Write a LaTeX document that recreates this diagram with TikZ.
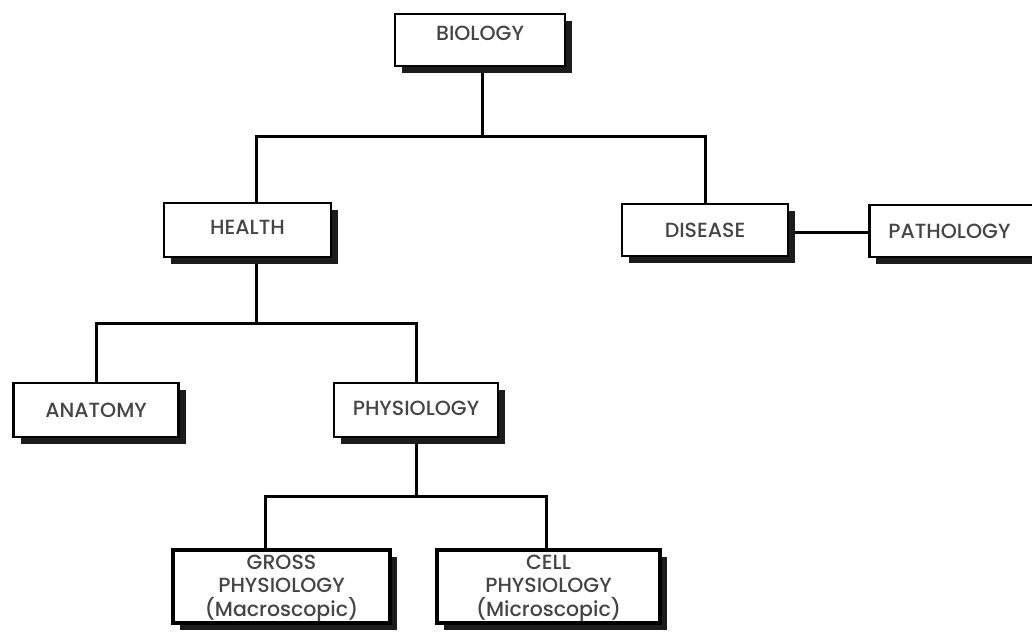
\documentclass[tikz,border=0pt]{standalone}
\usepackage{fontspec}
\setmainfont{Poppins}[UprightFont=* Medium]
\usetikzlibrary{shadows,backgrounds}
\definecolor{textgray}{HTML}{454545}
\definecolor{shadowgray}{HTML}{1C1C1C}
\begin{document}
\begin{tikzpicture}[x=1pt,y=-1pt,
  box/.style={draw=black, line width=2.8pt, fill=white, text=textgray,
    font=\fontsize{20.5}{24}\selectfont, inner sep=0pt,
    drop shadow={shadow xshift=7pt, shadow yshift=-7pt, fill=shadowgray, opacity=1}},
  bigbox/.style={box, line width=4.5pt, align=center, font=\fontsize{20.5}{23.5}\selectfont},
  link/.style={draw=black, line width=3pt}]
\clip (0,0) rectangle (1032,634);
% junction coordinates
\coordinate (jb) at (482,136);
\coordinate (jh) at (256,323);
\coordinate (jp) at (416,496);
\coordinate (xg) at (265,0);
\coordinate (xc) at (546,0);
\coordinate (yd) at (0,232);
% nodes
\node[box, minimum width=170pt, minimum height=52pt] (bio) at (480,40) {\raisebox{14pt}{BIOLOGY}};
\node[box, minimum width=167pt, minimum height=54pt] (health) at (247.5,230) {\raisebox{5pt}{HEALTH}};
\node[box, minimum width=166pt, minimum height=52pt] (disease) at (705,230) {\raisebox{-9pt}{DISEASE}};
\node[box, anchor=west, minimum height=52pt, text width=160pt, inner xsep=19pt, align=left] (pathology) at (868,231) {PATHOLOGY};
\node[box, minimum width=165pt, minimum height=54pt] (anatomy) at (96,410) {ANATOMY};
\node[box, minimum width=164pt, minimum height=54pt] (physiology) at (416,410) {\raisebox{3pt}{PHYSIOLOGY}};
\node[bigbox, minimum width=217pt, minimum height=73pt] (gross) at (281.5,586.5) {\rule{0pt}{17.5pt}GROSS\\PHYSIOLOGY\\(Macroscopic)};
\node[bigbox, minimum width=223pt, minimum height=73pt] (cell) at (548.5,586.5) {\rule{0pt}{17.5pt}CELL\\PHYSIOLOGY\\(Microscopic)};
% connectors
\begin{scope}[on background layer]
\fill[white] (0,0) rectangle (1032,634);
\draw[link] (bio.south -| jb) -- (jb);
\draw[link] (health.north -| jh) |- (jb) -| (disease.north);
\draw[link] (health.south -| jh) -- (jh);
\draw[link] (anatomy.north) |- (jh) -| (physiology.north);
\draw[link] (physiology.south) -- (jp);
\draw[link] (gross.north -| xg) |- (jp) -| (cell.north -| xc);
\draw[link] (disease.east |- yd) -- (pathology.west |- yd);
\end{scope}
\end{tikzpicture}
\end{document}
